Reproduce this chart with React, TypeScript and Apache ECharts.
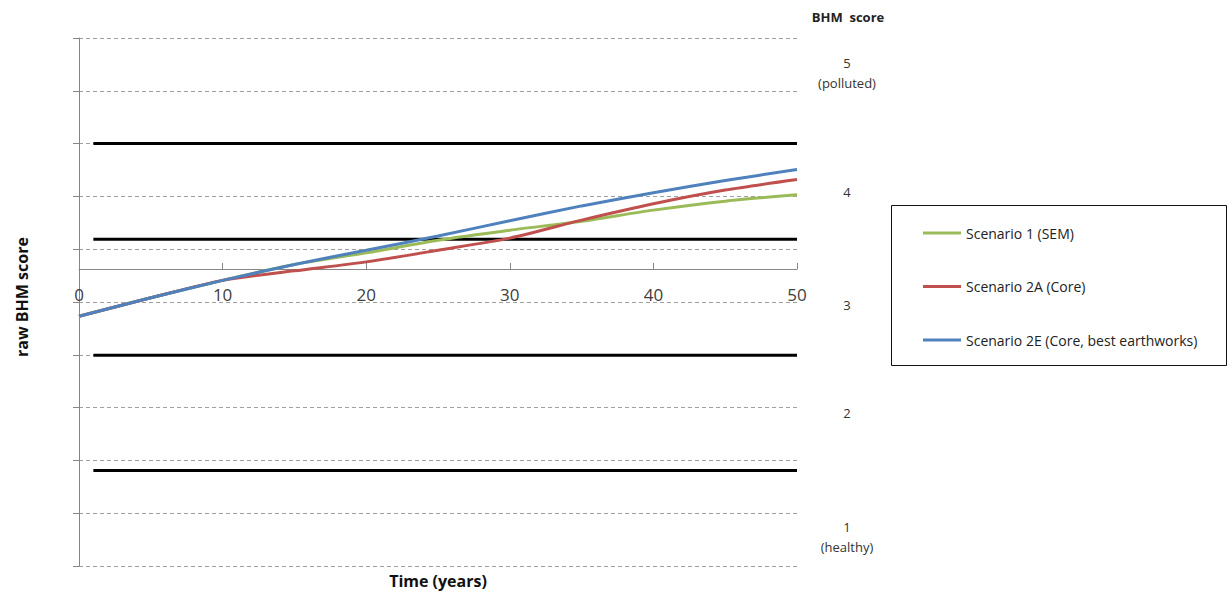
import React, { useEffect, useRef } from "react";
import * as echarts from "echarts";

// ---- data ----
const years = [0, 5, 10, 15, 20, 25, 30, 35, 40, 45, 50];
const scenario1 = [4.73, 5.08, 5.41, 5.71, 5.93, 6.17, 6.36, 6.53, 6.74, 6.91, 7.03];
const scenario2A = [4.73, 5.08, 5.41, 5.59, 5.76, 5.98, 6.21, 6.55, 6.86, 7.12, 7.32];
const scenario2E = [4.73, 5.08, 5.41, 5.71, 5.98, 6.25, 6.54, 6.82, 7.07, 7.3, 7.51];
const seriesNames = ["Scenario 1 (SEM)", "Scenario 2A (Core)", "Scenario 2E (Core, best earthworks)"];
const seriesValues = [scenario1, scenario2A, scenario2E];
const seriesColors = ["#9BBB59", "#C0504D", "#4F81BD"];
const thresholds = [1.81, 3.99, 6.19, 8.0];
const thresholdStart = 1;
const thresholdEnd = 50;
const scoreLabels = ["5", "4", "3", "2", "1"];
const scoreNotes = ["(polluted)", "", "", "", "(healthy)"];

const FONT = "Open Sans";

export default function App() {
  const ref = useRef<HTMLDivElement>(null);
  useEffect(() => {
    if (!ref.current) return;
    const chart = echarts.init(ref.current, undefined, { renderer: "svg" });

    const scoreY = [63, 192, 305, 413, 527];
    const noteY = [83, 0, 0, 0, 547];
    const graphics: any[] = [
      {
        type: "text",
        x: 22,
        y: 297,
        rotation: Math.PI / 2,
        style: { text: "raw BHM score", font: `bold 16px "${FONT}"`, fill: "#111", align: "center", verticalAlign: "middle" },
      },
      {
        type: "text",
        x: 438,
        y: 581,
        style: { text: "Time (years)", font: `bold 16px "${FONT}"`, fill: "#111", align: "center", verticalAlign: "middle" },
      },
      {
        type: "text",
        x: 848,
        y: 17,
        style: { text: "BHM  score", font: `bold 13px "${FONT}"`, fill: "#222", align: "center", verticalAlign: "middle" },
      },
      {
        type: "rect",
        shape: { x: 891.5, y: 205.5, width: 335, height: 160 },
        style: { fill: "none", stroke: "#111", lineWidth: 1 },
      },
    ];
    scoreLabels.forEach((s, i) => {
      graphics.push({
        type: "text",
        x: 847,
        y: scoreY[i],
        style: { text: s, font: `13px "${FONT}"`, fill: "#333", align: "center", verticalAlign: "middle" },
      });
      if (scoreNotes[i]) {
        graphics.push({
          type: "text",
          x: 847,
          y: noteY[i],
          style: { text: scoreNotes[i], font: `13px "${FONT}"`, fill: "#333", align: "center", verticalAlign: "middle" },
        });
      }
    });

    const thresholdSeries = thresholds.map((v) => ({
      type: "line",
      xAxisIndex: 0,
      yAxisIndex: 0,
      data: [
        [thresholdStart, v],
        [thresholdEnd, v],
      ],
      symbol: "none",
      silent: true,
      lineStyle: { color: "#000", width: 3 },
      z: 2,
    }));

    const curveSeries = seriesNames.map((name, k) => ({
      type: "line",
      name,
      xAxisIndex: 0,
      yAxisIndex: 0,
      data: years.map((x, i) => [x, seriesValues[k][i]]),
      smooth: 0.25,
      symbol: "none",
      lineStyle: { color: seriesColors[k], width: 3 },
      itemStyle: { color: seriesColors[k] },
      z: 3 + k,
    }));

    chart.setOption({
      animation: false,
      backgroundColor: "#fff",
      textStyle: { fontFamily: FONT },
      grid: [
        { left: 79, top: 38, width: 718, height: 528 },
        { left: 79, top: 268, width: 718, height: 1 },
      ],
      xAxis: [
        { type: "value", gridIndex: 0, min: 0, max: 50, show: false },
        {
          type: "value",
          gridIndex: 1,
          min: 0,
          max: 50,
          interval: 10,
          axisLine: { show: true, lineStyle: { color: "#868686", width: 1 } },
          axisTick: { show: true, inside: true, length: 6, lineStyle: { color: "#868686" } },
          axisLabel: { fontSize: 17, color: "#404040", margin: 17, fontFamily: FONT },
          splitLine: { show: false },
        },
      ],
      yAxis: [
        {
          type: "value",
          gridIndex: 0,
          min: 0,
          max: 10,
          interval: 1,
          axisLine: { show: true, lineStyle: { color: "#868686", width: 1 } },
          axisTick: { show: true, length: 6, lineStyle: { color: "#868686" } },
          axisLabel: { show: false },
          splitLine: { show: true, lineStyle: { type: [4, 3], color: "#a0a0a0", width: 1 } },
        },
        { type: "value", gridIndex: 1, min: 0, max: 1, show: false },
      ],
      legend: {
        data: seriesNames,
        orient: "vertical",
        left: 923,
        top: 225,
        padding: 0,
        icon: "rect",
        itemWidth: 38,
        itemHeight: 3,
        itemGap: 37.5,
        selectedMode: false,
        textStyle: { fontSize: 14, color: "#222", fontFamily: FONT, lineHeight: 16 },
      },
      graphic: graphics,
      series: [...thresholdSeries, ...curveSeries],
    });

    return () => chart.dispose();
  }, []);

  return <div ref={ref} style={{ position: "absolute", left: 0, top: 0, width: 1228, height: 596 }} />;
}
